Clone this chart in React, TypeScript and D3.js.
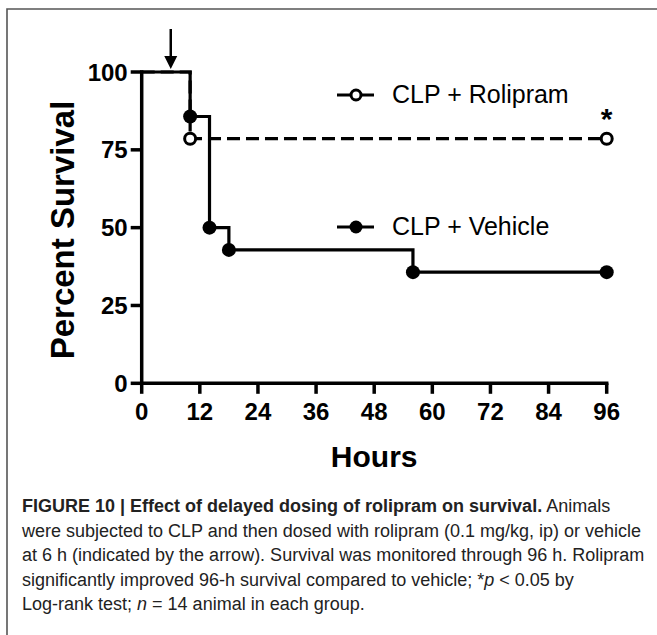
import React from "react";
import * as d3 from "d3";

const xTicks = [0, 12, 24, 36, 48, 60, 72, 84, 96];
const yTicks = [0, 25, 50, 75, 100];

// Kaplan-Meier steps (hours, percent survival)
const vehicleHours = [0, 10, 14, 18, 56, 96];
const vehicleSurvival = [100, 85.71, 50, 42.86, 35.71, 35.71];
const roliHours = [0, 10, 96];
const roliSurvival = [100, 78.57, 78.57];

const seriesNames = ["CLP + Rolipram", "CLP + Vehicle"];
const doseHour = 6;

const captionLines = [
  [
    { t: "FIGURE 10 | Effect of delayed dosing of rolipram on survival.", w: "bold" },
    { t: " Animals" },
  ],
  [{ t: "were subjected to CLP and then dosed with rolipram (0.1 mg/kg, ip) or vehicle" }],
  [{ t: "at 6 h (indicated by the arrow). Survival was monitored through 96 h. Rolipram" }],
  [
    { t: "significantly improved 96-h survival compared to vehicle; *" },
    { t: "p", i: true },
    { t: " < 0.05 by" },
  ],
  [{ t: "Log-rank test; " }, { t: "n", i: true }, { t: " = 14 animal in each group." }],
];

export default function App() {
  const W = 657,
    H = 635;
  const x = d3.scaleLinear().domain([0, 96]).range([141.7, 606.7]);
  const y = d3.scaleLinear().domain([0, 100]).range([383.3, 72]);

  const line = d3
    .line<[number, number]>()
    .x((d) => x(d[0]))
    .y((d) => y(d[1]))
    .curve(d3.curveStepAfter);

  const veh: [number, number][] = vehicleHours.map((h, i) => [h, vehicleSurvival[i]]);
  const rol: [number, number][] = roliHours.map((h, i) => [h, roliSurvival[i]]);

  const font = "'Liberation Sans', Arial, Helvetica, sans-serif";

  return (
    <svg
      width={W}
      height={H}
      style={{ position: "absolute", left: 0, top: 0, background: "#fff" }}
      fontFamily={font}
    >
      <rect x={0} y={0} width={W} height={H} fill="#fff" />
      {/* frame */}
      <path d={`M7,${H + 5} L7,9 L${W + 5},9`} fill="none" stroke="#555" strokeWidth={1.6} />

      {/* axes */}
      <line x1={x(0)} x2={x(96)} y1={y(0)} y2={y(0)} stroke="#000" strokeWidth={3.5} strokeLinecap="square" />
      <line x1={x(0)} x2={x(0)} y1={y(0)} y2={y(100)} stroke="#000" strokeWidth={3.5} strokeLinecap="square" />
      {xTicks.map((t) => (
        <g key={"xt" + t}>
          <line x1={x(t)} x2={x(t)} y1={y(0)} y2={y(0) + 10.5} stroke="#000" strokeWidth={3.5} />
          <text x={x(t)} y={420} textAnchor="middle" fontWeight="bold" fontSize={24}>
            {t}
          </text>
        </g>
      ))}
      {yTicks.map((t) => (
        <g key={"yt" + t}>
          <line x1={x(0) - 11} x2={x(0)} y1={y(t)} y2={y(t)} stroke="#000" strokeWidth={3.5} />
          <text x={x(0) - 14} y={y(t) + 8.5} textAnchor="end" fontWeight="bold" fontSize={24}>
            {t}
          </text>
        </g>
      ))}

      {/* axis titles */}
      <text
        transform={`translate(${74},${230}) rotate(-90)`}
        textAnchor="middle"
        fontWeight="bold"
        fontSize={33}
      >
        Percent Survival
      </text>
      <text x={(x(0) + x(96)) / 2} y={467} textAnchor="middle" fontWeight="bold" fontSize={30}>
        Hours
      </text>

      {/* curves */}
      <path d={line(rol) || ""} fill="none" stroke="#000" strokeWidth={3.2} strokeDasharray="13,6" />
      <path d={line(veh) || ""} fill="none" stroke="#000" strokeWidth={3.2} />
      {veh.slice(1).map((d, i) => (
        <circle key={"v" + i} cx={x(d[0])} cy={y(d[1])} r={7} fill="#000" />
      ))}
      {rol.slice(1).map((d, i) => (
        <circle key={"r" + i} cx={x(d[0])} cy={y(d[1])} r={5.5} fill="#fff" stroke="#000" strokeWidth={3} />
      ))}

      {/* significance */}
      <text x={x(96)} y={129} textAnchor="middle" fontWeight="bold" fontSize={30}>
        *
      </text>

      {/* arrow */}
      <line x1={x(doseHour)} x2={x(doseHour)} y1={29} y2={58} stroke="#000" strokeWidth={2.5} />
      <path
        d={`M${x(doseHour) - 6.5},${56} L${x(doseHour) + 6.5},${56} L${x(doseHour)},${69} Z`}
        fill="#000"
      />

      {/* legend */}
      <line x1={337} x2={374} y1={95} y2={95} stroke="#000" strokeWidth={3.2} />
      <circle cx={356} cy={95} r={5} fill="#fff" stroke="#000" strokeWidth={3} />
      <text x={392} y={103} fontSize={25}>
        {seriesNames[0]}
      </text>
      <line x1={337} x2={374} y1={227} y2={227} stroke="#000" strokeWidth={3.2} />
      <circle cx={356} cy={227} r={6.5} fill="#000" />
      <text x={392} y={235} fontSize={25}>
        {seriesNames[1]}
      </text>

      {/* caption */}
      {captionLines.map((ln, i) => (
        <text key={"c" + i} x={22} y={512 + i * 24.6} fontSize={18} fill="#222">
          {ln.map((s: any, j) => (
            <tspan key={j} fontWeight={s.w || "normal"} fontStyle={s.i ? "italic" : "normal"}>
              {s.t}
            </tspan>
          ))}
        </text>
      ))}
    </svg>
  );
}
